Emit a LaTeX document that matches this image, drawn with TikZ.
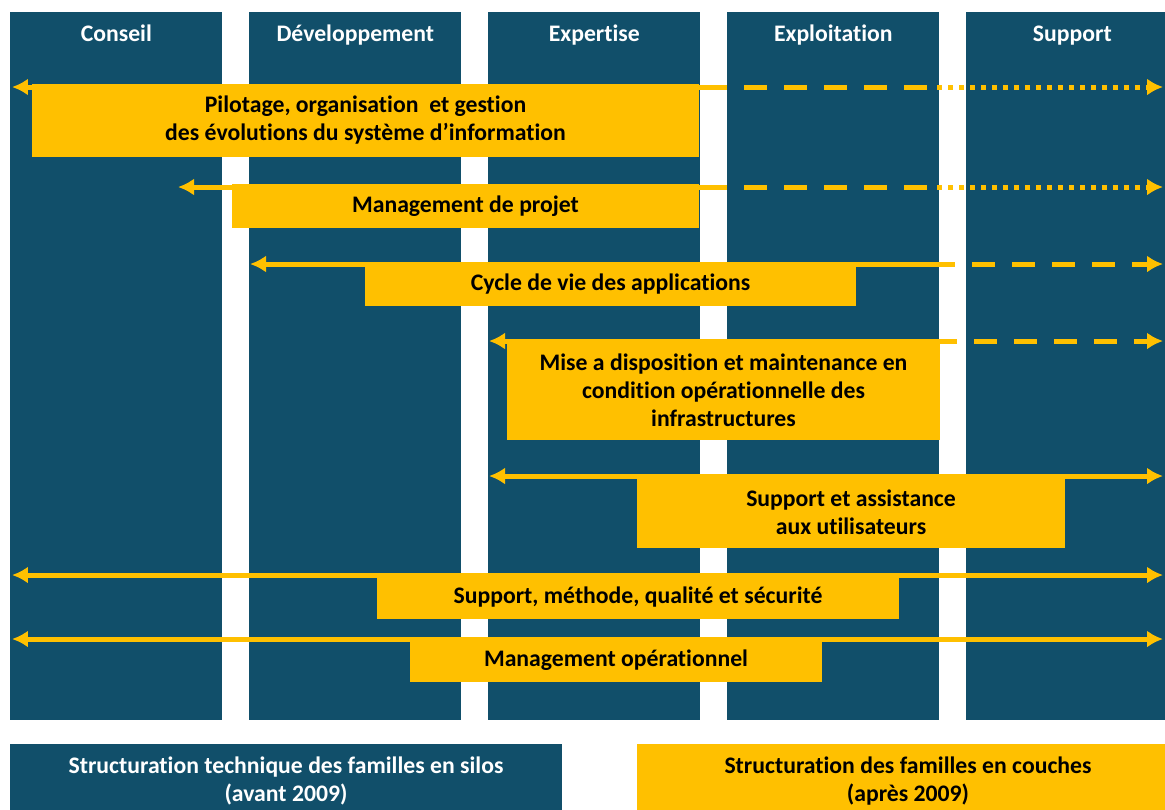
\documentclass[tikz,border=0pt]{standalone}
\usepackage{fontspec}
\setmainfont{Carlito}[Ligatures=CommonOff]
\usepackage{tikz}
\usepackage{xcolor}
\usetikzlibrary{arrows.meta}
\usetikzlibrary{positioning}

\definecolor{silo}{RGB}{17,79,106}
\definecolor{couche}{RGB}{255,192,0}

\tikzset{
  colonne/.style={fill=silo, inner sep=0, minimum width=4.24cm, minimum height=14.16cm, anchor=north west},
  entete/.style={text=white, anchor=base, font=\bfseries\fontsize{13.5pt}{15.9pt}\selectfont},
  barre/.style={fill=couche, inner sep=0, align=center, font=\bfseries\fontsize{13.5pt}{15.9pt}\selectfont},
  legende/.style={inner sep=0, align=center, minimum height=1.48cm, font=\bfseries\fontsize{13.5pt}{15.9pt}\selectfont},
  fleche/.style={couche, line width=0.1cm},
  tirets/.style={fleche, dash pattern=on 0.46cm off 0.34cm, dash phase=0.46cm},
  points/.style={fleche, dash pattern=on 0.1cm off 0.12cm},
}

\begin{document}
\begin{tikzpicture}[x=0.02cm, y=-0.02cm, >={Latex[length=0.32cm,width=0.34cm]}]

  \useasboundingbox (0,0) rectangle (1165,809);
  \fill[white] (0,0) rectangle (1165,809);

%%%%%%%%%%%% Familles en silos
  \foreach \x/\nom/\titre in {10/conseil/Conseil, 249/dev/Développement, 488/expertise/Expertise, 727/exploit/Exploitation, 966/support/Support} {
    \node[colonne] (\nom) at (\x, 12) {};
    \node[entete] (t\nom) at ([yshift=-0.58cm]\nom.north) {\titre};
  }

%%%%%%%%%%%% Familles en couches
  \node[barre, minimum width=13.34cm, minimum height=1.46cm] (pilot) at (365.5, 120.5)
    {Pilotage, organisation~ et gestion\\des évolutions du système d’information};
  \node[barre, minimum width=9.34cm, minimum height=0.88cm] (projet) at (465.5, 206) {Management de projet};
  \node[barre, minimum width=9.82cm, minimum height=0.88cm] (cycle) at (610.5, 284) {Cycle de vie des applications};
  \node[barre, minimum width=8.66cm, minimum height=2.0cm] (infra) at (723.5, 390)
    {Mise a disposition et maintenance en\\condition opérationnelle des\\infrastructures};
  \node[barre, minimum width=8.56cm, minimum height=1.44cm] (assist) at (851, 512)
    {Support et assistance\\aux utilisateurs};
  \node[barre, minimum width=10.44cm, minimum height=0.86cm] (methode) at (638, 597.5)
    {Support, méthode, qualité et sécurité};
  \node[barre, minimum width=8.24cm, minimum height=0.88cm] (manop) at (616, 660) {Management opérationnel};

  % extremites des fleches
  \coordinate (pilotG) at (12, 87);   \coordinate (pilotS) at (727, 87);
  \coordinate (pilotT) at (937, 87);  \coordinate (pilotD) at (1163, 87);
  \coordinate (projetG) at (178, 187); \coordinate (projetS) at (727, 187);
  \coordinate (projetT) at (937, 187); \coordinate (projetD) at (1163, 187);
  \coordinate (cycleG) at (250, 264);  \coordinate (cycleS) at (955, 264);
  \coordinate (cycleD) at (1163, 264);
  \coordinate (infraG) at (489, 341);  \coordinate (infraS) at (957, 341);
  \coordinate (infraD) at (1163, 341);
  \coordinate (assistG) at (489, 476); \coordinate (assistD) at (1163, 476);
  \coordinate (methodeG) at (12, 575); \coordinate (methodeD) at (1163, 575);
  \coordinate (manopG) at (12, 639);   \coordinate (manopD) at (1163, 639);

  \draw[fleche, <-] (pilotG) -- (pilotS);
  \draw[tirets] (pilotS) -- (pilotT);
  \draw[points, ->] (pilotT) -- (pilotD);

  \draw[fleche, <-] (projetG) -- (projetS);
  \draw[tirets] (projetS) -- (projetT);
  \draw[points, ->] (projetT) -- (projetD);

  \draw[fleche, <-] (cycleG) -- (cycleS);
  \draw[tirets, ->] (cycleS) -- (cycleD);

  \draw[fleche, <-] (infraG) -- (infraS);
  \draw[tirets, ->] (infraS) -- (infraD);

  \draw[fleche, <->] (assistG) -- (assistD);
  \draw[fleche, <->] (methodeG) -- (methodeD);
  \draw[fleche, <->] (manopG) -- (manopD);

%%%%%%%%%%%% Legende
  \node[legende, fill=silo, text=white, minimum width=11.04cm] (avant) at (286, 781)
    {Structuration technique des familles en silos\\(avant 2009)};
  \node[legende, fill=couche, minimum width=10.84cm] (apres) at (908, 781)
    {Structuration des familles en couches\\(après 2009)};
\end{tikzpicture}
\end{document}
